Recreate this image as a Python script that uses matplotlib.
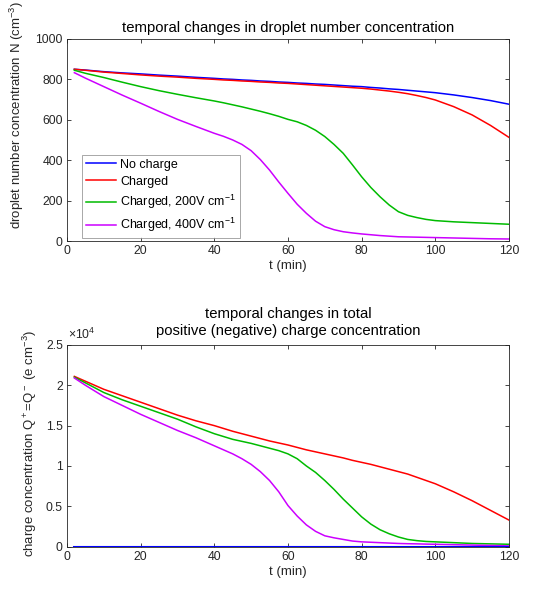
import matplotlib
matplotlib.use("Agg")
import matplotlib.pyplot as plt

plt.rcParams['font.family'] = ['Liberation Sans', 'DejaVu Sans']
plt.rcParams['mathtext.fontset'] = 'custom'
plt.rcParams['mathtext.rm'] = 'Liberation Sans'
plt.rcParams['mathtext.it'] = 'Liberation Sans:italic'

# time (min)
t = [2, 5, 10, 15, 20, 25, 30, 35, 40, 42.5, 45, 47.5, 50, 52.5, 55, 57.5, 60, 62.5, 65, 67.5,
     70, 72.5, 75, 77.5, 80, 82.5, 85, 87.5, 90, 92.5, 95, 97.5, 100, 105, 110, 115, 120]

# droplet number concentration N (cm^-3)
N_nocharge = [850, 846, 838, 832, 827, 821, 816, 810, 805, 802, 800, 797, 795, 792, 790, 787, 785, 782, 780, 777,
              775, 772, 769, 766, 764, 760, 757, 753, 750, 746, 742, 738, 734, 723, 710, 695, 677]
N_charged = [850, 845, 836, 829, 822, 816, 811, 805, 800, 797, 795, 792, 790, 787, 785, 782, 780, 777, 774, 771,
             768, 765, 762, 759, 756, 752, 747, 742, 736, 729, 720, 710, 698, 665, 624, 572, 513]
N_200 = [845, 830, 809, 786, 764, 744, 726, 709, 693, 684, 674, 664, 653, 642, 630, 617, 602, 590, 572, 548,
         517, 478, 434, 377, 318, 265, 219, 178, 145, 127, 116, 107, 101, 95, 91, 87, 83]
N_400 = [833, 806, 764, 722, 682, 641, 602, 567, 533, 518, 500, 478, 447, 403, 351, 292, 236, 182, 137, 98,
         71, 56, 46, 40, 35, 31, 27, 24, 21, 20, 19, 18, 17, 15, 13, 11, 10]

# charge concentration Q (x10^4 e cm^-3)
Q_nocharge = [0.0] * len(t)
Q_charged = [2.11, 2.05, 1.95, 1.87, 1.79, 1.71, 1.63, 1.56, 1.50, 1.465, 1.43, 1.40, 1.37, 1.34, 1.31, 1.285,
             1.26, 1.23, 1.20, 1.175, 1.15, 1.125, 1.10, 1.07, 1.045, 1.02, 0.99, 0.96, 0.93, 0.90, 0.86, 0.82,
             0.78, 0.68, 0.57, 0.45, 0.33]
Q_200 = [2.10, 2.03, 1.91, 1.82, 1.74, 1.66, 1.58, 1.485, 1.40, 1.365, 1.33, 1.305, 1.28, 1.25, 1.22, 1.19,
         1.15, 1.09, 1.00, 0.92, 0.82, 0.71, 0.59, 0.48, 0.37, 0.28, 0.21, 0.16, 0.12, 0.09, 0.075, 0.065,
         0.06, 0.05, 0.04, 0.035, 0.03]
Q_400 = [2.09, 2.00, 1.86, 1.75, 1.64, 1.54, 1.44, 1.35, 1.25, 1.20, 1.15, 1.09, 1.02, 0.93, 0.82, 0.68,
         0.51, 0.38, 0.27, 0.19, 0.135, 0.11, 0.09, 0.07, 0.06, 0.055, 0.05, 0.045, 0.04, 0.037, 0.035, 0.032,
         0.03, 0.025, 0.02, 0.015, 0.01]

labels = ['No charge', 'Charged', 'Charged, 200V cm$^{-1}$', 'Charged, 400V cm$^{-1}$']
colors = ['#0000ff', '#ff0000', '#00bb00', '#cc00ff']

xticks = [0, 20, 40, 60, 80, 100, 120]
N_ticks = [0, 200, 400, 600, 800, 1000]
Q_ticks = [0, 0.5, 1, 1.5, 2, 2.5]
Q_ticklabels = ['0', '0.5', '1', '1.5', '2', '2.5']

fig = plt.figure(figsize=(5.42, 5.90), dpi=100)
ax1 = fig.add_axes([0.1236, 0.5915, 0.8154, 0.3425])
ax2 = fig.add_axes([0.1236, 0.0734, 0.8154, 0.3420])

axcol = '#262626'
tick_fs = 8.8
lab_fs = 9.5
title_fs = 10.7
lw = 1.1
for ax in (ax1, ax2):
    for s in ax.spines.values():
        s.set_color(axcol)
        s.set_linewidth(0.6)
    ax.tick_params(direction='in', top=True, right=True, length=3, width=0.6,
                   colors=axcol, labelsize=tick_fs, pad=3)
    ax.set_xlim(0, 120)
    ax.set_xticks(xticks)

for y, c, lab in zip([N_nocharge, N_charged, N_200, N_400], colors, labels):
    ax1.plot(t, y, color=c, lw=lw, label=lab)
ax1.set_ylim(0, 1000)
ax1.set_yticks(N_ticks)
ax1.set_xlabel('t (min)', fontsize=lab_fs, color=axcol, labelpad=2)
ax1.set_ylabel('droplet number concentration N (cm$^{-3}$)', fontsize=lab_fs, color=axcol, ha='left')
ax1.yaxis.set_label_coords(-0.093, 0.06)
ax1.set_title('temporal changes in droplet number concentration', fontsize=title_fs, color='black', pad=5)
leg = ax1.legend(loc='lower left', bbox_to_anchor=(0.034, 0.015), fontsize=9, frameon=True,
                 fancybox=False, edgecolor='#808080', handlelength=2.4, borderaxespad=0.0,
                 labelspacing=0.4, handletextpad=0.35, borderpad=0.3)
leg.get_frame().set_linewidth(0.6)

ax2.plot(t, Q_charged, color=colors[1], lw=lw)
ax2.plot(t, Q_200, color=colors[2], lw=lw)
ax2.plot(t, Q_400, color=colors[3], lw=lw)
ax2.plot(t, Q_nocharge, color=colors[0], lw=1.5)
ax2.set_ylim(0, 2.5)
ax2.set_yticks(Q_ticks)
ax2.set_yticklabels(Q_ticklabels)
ax2.set_xlabel('t (min)', fontsize=lab_fs, color=axcol, labelpad=2)
ax2.set_ylabel('charge concentration Q$^+$=Q$^-$ (e cm$^{-3}$)', fontsize=lab_fs, color=axcol, ha='left')
ax2.yaxis.set_label_coords(-0.064, -0.051)
ax2.set_title('temporal changes in total\npositive (negative) charge concentration',
              fontsize=title_fs, color='black', pad=7, linespacing=1.25)
ax2.text(0.002, 1.015, r'$\times$10$^4$', transform=ax2.transAxes, fontsize=tick_fs, color=axcol,
         ha='left', va='bottom')

fig.savefig('out.png', dpi=100)
